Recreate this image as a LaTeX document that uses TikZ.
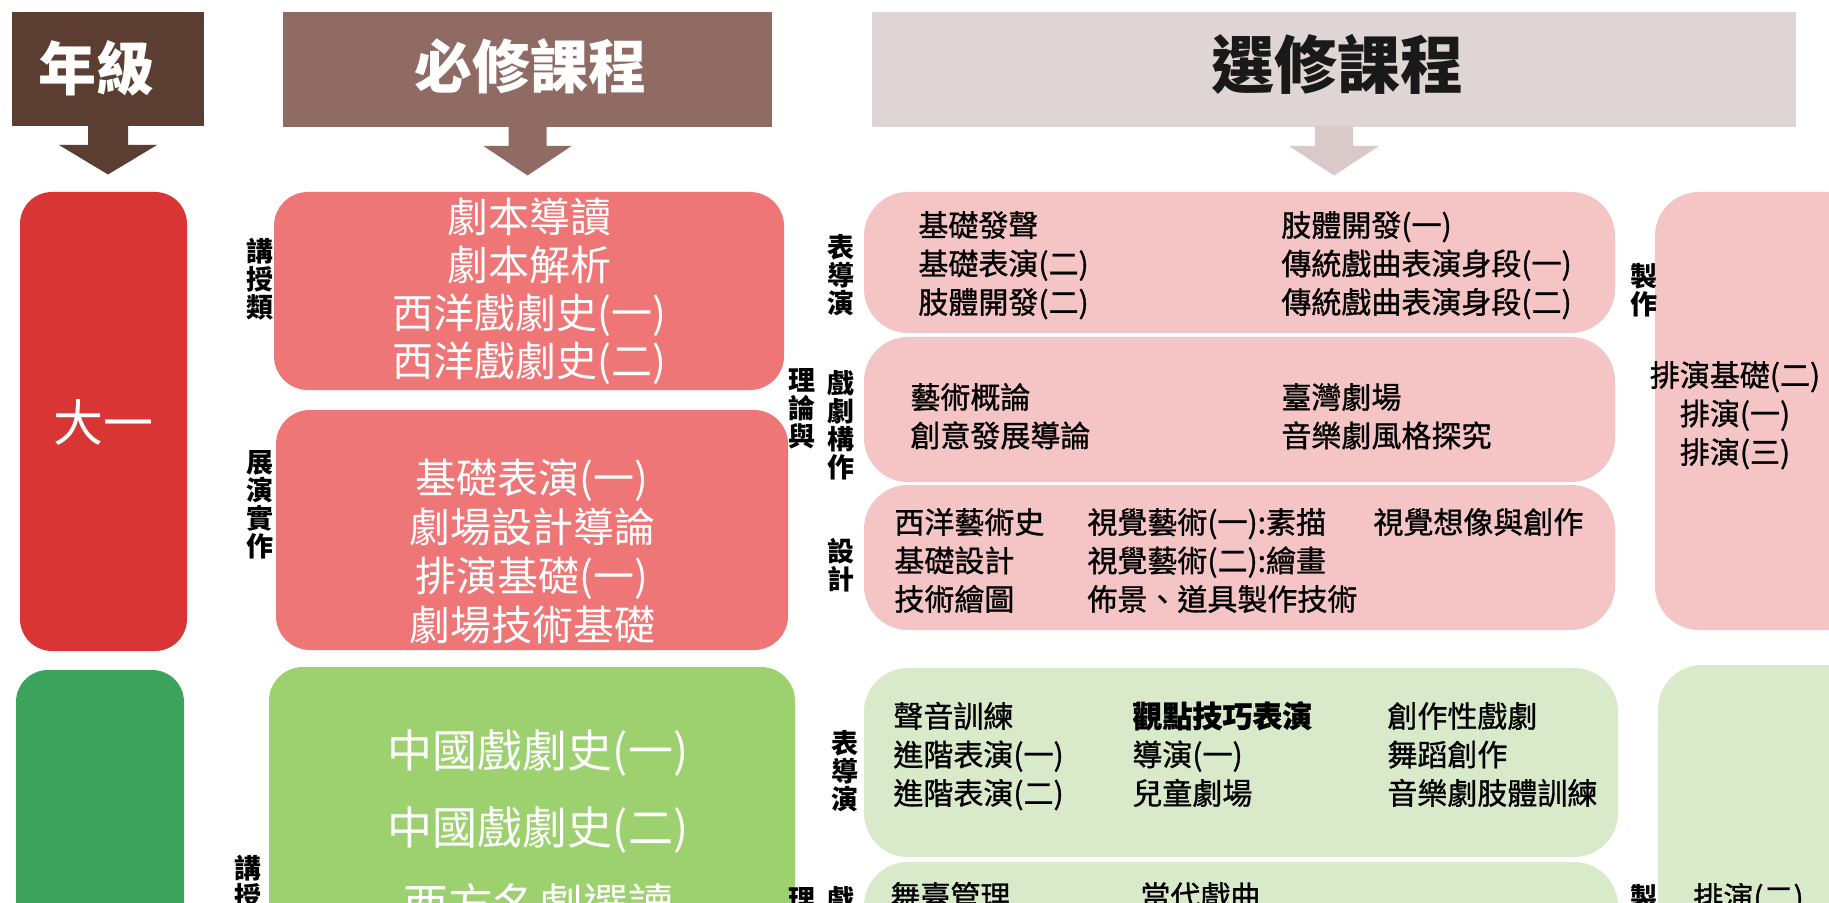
\documentclass[tikz,border=0pt]{standalone}
\usepackage{fontspec}
\setmainfont{Noto Sans CJK TC}
\newfontfamily\elfont{Noto Sans CJK TC}[FakeBold=1]
\usetikzlibrary{calc}
\definecolor{cNianji}{HTML}{5C3D31}
\definecolor{cBixiu}{HTML}{8F6B63}
\definecolor{cXuan}{HTML}{E0D5D5}
\definecolor{cXuanArr}{HTML}{D9C9C9}
\definecolor{cRedDark}{HTML}{D93535}
\definecolor{cRedReq}{HTML}{EE7676}
\definecolor{cPink}{HTML}{F5C4C4}
\definecolor{cGrnDark}{HTML}{3CA35C}
\definecolor{cGrnReq}{HTML}{9DD06F}
\definecolor{cGrnEl}{HTML}{D9EACB}
\newcommand{\blkarrow}[4]{%
  \fill[#4] ($(#1.south)+(-#2,-1)$) -- ($(#1.south)+(#2,-1)$) -- ($(#1.south)+(#2,19)$)
    -- ($(#1.south)+(#3,19)$) -- ($(#1.south)+(0,48.5)$) -- ($(#1.south)+(-#3,19)$)
    -- ($(#1.south)+(-#2,19)$) -- cycle;}
\newcommand{\elcol}[5]{%
  \foreach \itm [count=\i] in {#5} {%
    \node[eltxt, anchor=#1] (#2-\i) at ({#3}, {#4+(\i-1)*38.5+11.4}) {\itm};}}
\begin{document}
\begin{tikzpicture}[x=0.5pt,y=-0.5pt,
  blk/.style={inner sep=0pt, outer sep=0pt, anchor=north west},
  hdr/.style={font=\bfseries\fontsize{29}{29}\selectfont, inner sep=0pt},
  reqtxt/.style={text=white, font=\fontsize{20.5}{24}\selectfont, align=center, inner sep=0pt},
  grntxt/.style={text=white, font=\fontsize{22.5}{38.5}\selectfont, align=center, inner sep=0pt},
  eltxt/.style={font=\elfont\fontsize{15}{19}\selectfont, inner sep=0pt},
  lbl/.style={font=\bfseries\fontsize{13.5}{14}\selectfont, align=center, inner sep=0pt}]
\useasboundingbox (0,0) rectangle (1829,903);
\clip (0,0) rectangle (1829,903);
\fill[white] (0,0) rectangle (1829,903);

% header boxes
\node[blk, fill=cNianji, minimum width=96pt, minimum height=57pt] (nj) at (12,12) {};
\node[blk, fill=cBixiu, minimum width=244.5pt, minimum height=57.5pt] (bx) at (283,12) {};
\node[blk, fill=cXuan, minimum width=462pt, minimum height=57.5pt] (xx) at (872,12) {};
\node[hdr, text=white] (t-nj) at (96,68) {年級};
\node[hdr, text=white] (t-bx) at (530,66) {必修課程};
\node[hdr, text=black!90, font=\bfseries\fontsize{31.5}{31.5}\selectfont] (t-xx) at (1337,64) {選修課程};
\blkarrow{nj}{20}{49}{cNianji}
\blkarrow{bx}{19}{44}{cBixiu}
\blkarrow{xx}{19}{45}{cXuanArr}

% year 1 (red)
\node[blk, fill=cRedDark, rounded corners=16pt, minimum width=83.5pt, minimum height=229.5pt] (y1) at (20,192) {};
\node[text=white, font=\fontsize{25}{25}\selectfont, inner sep=0pt] (t-y1) at (103,422) {大一};
\node[blk, fill=cRedReq, rounded corners=17pt, minimum width=255pt, minimum height=99pt] (r1) at (274,192) {};
\node[blk, fill=cRedReq, rounded corners=17pt, minimum width=256pt, minimum height=120pt] (r2) at (276,410) {};
\node[reqtxt] (r1t) at (529,291) {劇本導讀\\劇本解析\\西洋戲劇史(一)\\西洋戲劇史(二)};
\node[reqtxt, font=\fontsize{20.5}{24.5}\selectfont] (r2t) at (532,551) {基礎表演(一)\\劇場設計導論\\排演基礎(一)\\劇場技術基礎};
\node[lbl] (l1) at (260,279) {講\\授\\類};
\node[lbl] (l2) at (260,505) {展\\演\\實\\作};

\node[blk, fill=cPink, rounded corners=22pt, minimum width=375.5pt, minimum height=70.5pt] (p1) at (864,192) {};
\node[blk, fill=cPink, rounded corners=22pt, minimum width=375.5pt, minimum height=72.5pt] (p2) at (864,337) {};
\node[blk, fill=cPink, rounded corners=22pt, minimum width=375.5pt, minimum height=72.5pt] (p3) at (864,485) {};
\node[blk, fill=cPink, rounded corners=22pt, minimum width=107.5pt, minimum height=219pt] (pr) at (1655,192) {};
\node[lbl] (l4) at (841,275) {表\\導\\演};
\node[lbl] (l5) at (802,409) {理\\論\\與};
\node[lbl] (l6) at (841,425) {戲\\劇\\構\\作};
\node[lbl] (l7) at (841,565) {設\\計};
\node[lbl] (l8) at (1644,290) {製\\作};
\elcol{base west}{p1a}{918}{225}{基礎發聲,基礎表演(二),肢體開發(二)}
\elcol{base west}{p1b}{1281}{225}{肢體開發(一),傳統戲曲表演身段(一),傳統戲曲表演身段(二)}
\elcol{base west}{p2a}{910}{397}{藝術概論,創意發展導論}
\elcol{base west}{p2b}{1281}{397}{臺灣劇場,音樂劇風格探究}
\elcol{base west}{p3a}{894}{522}{西洋藝術史,基礎設計,技術繪圖}
\elcol{base west}{p3b}{1087}{522}{視覺藝術(一):素描,視覺藝術(二):繪畫,佈景、道具製作技術}
\elcol{base west}{p3c}{1373}{522}{視覺想像與創作}
\elcol{base}{prt}{1735}{375}{排演基礎(二),排演(一),排演(三)}

% year 2 (green)
\node[blk, fill=cGrnDark, rounded corners=16pt, minimum width=84pt, minimum height=200pt] (y2) at (16,670) {};
\node[blk, fill=cGrnReq, rounded corners=17pt, minimum width=263pt, minimum height=200pt] (g1) at (269,667) {};
\node[grntxt] (g1t) at (538,827) {中國戲劇史(一)\\中國戲劇史(二)\\西方名劇選讀};
\node[lbl] (l3) at (248,882) {講\\授};
\node[blk, fill=cGrnEl, rounded corners=22pt, minimum width=377pt, minimum height=94.5pt] (e1) at (864,668) {};
\node[blk, fill=cGrnEl, rounded corners=22pt, minimum width=377pt, minimum height=100pt] (e2) at (864,862) {};
\node[blk, fill=cGrnEl, rounded corners=22pt, minimum width=107.5pt, minimum height=200pt] (er) at (1658,665) {};
\node[lbl] (l9) at (845,771) {表\\導\\演};
\node[lbl] (l10) at (802,899) {理};
\node[lbl] (l11) at (841,899) {戲};
\node[lbl] (l12) at (1644,897) {製};
\elcol{base west}{e1a}{893}{716}{聲音訓練,進階表演(一),進階表演(二)}
\elcol{base west}{e1b}{1132}{716}{\textbf{觀點技巧表演},導演(一),兒童劇場}
\elcol{base west}{e1c}{1387}{716}{創作性戲劇,舞蹈創作,音樂劇肢體訓練}
\elcol{base west}{e2a}{890}{896}{舞臺管理}
\elcol{base west}{e2b}{1140}{896}{當代戲曲}
\elcol{base west}{ert}{1693}{897}{排演(二)}
\end{tikzpicture}
\end{document}
